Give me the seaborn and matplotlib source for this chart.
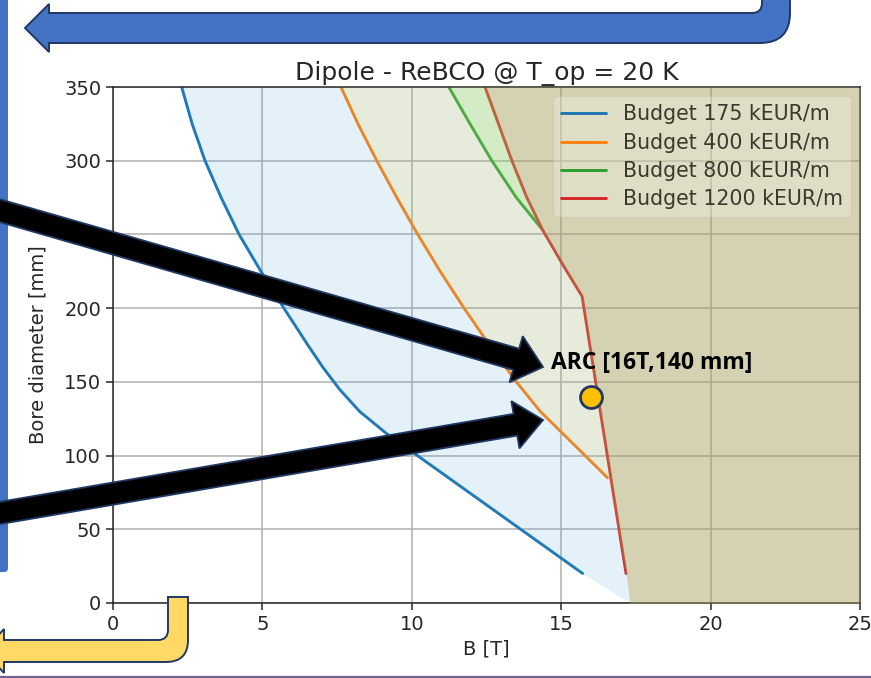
import numpy as np
import pandas as pd
import matplotlib
matplotlib.use("Agg")
import matplotlib.pyplot as plt
import seaborn as sns
from matplotlib.patches import FancyArrow, FancyBboxPatch, PathPatch
from matplotlib.path import Path

# ---- data -------------------------------------------------------------
budgets = ["Budget 175 kEUR/m", "Budget 400 kEUR/m",
           "Budget 800 kEUR/m", "Budget 1200 kEUR/m"]
line_colors = ["#1f77b4", "#ff7f0e", "#2ca02c", "#d62728"]
fill_colors = ["#52a2d7", "#ecc938", "#6ef849", "#e14047"]

# bore diameter [mm] and reachable dipole field [T] for each budget
d_175 = [350, 325, 300, 275, 250, 225, 200, 175, 160, 145, 130, 115, 20]
b_175 = [2.30, 2.65, 3.08, 3.62, 4.22, 4.95, 5.72, 6.52, 7.02, 7.58, 8.25, 9.15, 15.72]

d_400 = [350, 325, 300, 275, 250, 225, 200, 175, 150, 130, 117, 85]
b_400 = [7.63, 8.20, 8.83, 9.50, 10.20, 10.95, 11.75, 12.60, 13.50, 14.30, 14.95, 16.55]

d_800 = [350, 325, 300, 275, 253]
b_800 = [11.24, 11.95, 12.68, 13.50, 14.38]

d_1200 = [350, 325, 300, 275, 253, 230, 208, 20]
b_1200 = [12.45, 12.90, 13.35, 13.85, 14.38, 15.04, 15.70, 17.17]

# field limit reached at zero bore
b_limit = 17.3

arc_field = 16      # T
arc_bore = 140      # mm
arc_label = "ARC [16T,140 mm]"

x_ticks = [0, 5, 10, 15, 20, 25]
y_ticks = [0, 50, 100, 150, 200, 250, 300, 350]

# ---- style ------------------------------------------------------------
sns.set_style("ticks")
plt.rcParams["font.family"] = ["DejaVu Sans"]

W, H = 871, 678
fig = plt.figure(figsize=(W / 100, H / 100), dpi=100)
ax = fig.add_axes([113 / W, 75 / H, 747 / W, 516 / H])

frames = []
for name, bb, dd in zip(budgets, [b_175, b_400, b_800, b_1200],
                        [d_175, d_400, d_800, d_1200]):
    frames.append(pd.DataFrame({"B": bb, "D": dd, "budget": name}))
df = pd.concat(frames, ignore_index=True)

sns.lineplot(data=df, x="B", y="D", hue="budget", hue_order=budgets,
             palette=line_colors, sort=False, estimator=None,
             linewidth=2.1, ax=ax, zorder=2)

ax.set_xlim(0, 25)
ax.set_ylim(0, 350)
ax.set_xticks(x_ticks)
ax.set_yticks(y_ticks)
ax.tick_params(labelsize=14, length=5, width=1.1, colors="#262626")
for s in ax.spines.values():
    s.set_linewidth(1.1)
    s.set_color("#262626")
ax.set_axisbelow(True)
ax.grid(True, color="#b0b0b0", linewidth=1.1)
ax.set_xlabel("B [T]", fontsize=14, labelpad=4)
ax.set_ylabel("Bore diameter [mm]", fontsize=14, labelpad=12)
ax.set_title("Dipole - ReBCO @ T_op = 20 K", fontsize=18, pad=5)


def region(dd, bb):
    """Curve points, continued along the highest-budget curve to zero bore."""
    d_out, b_out = list(dd), list(bb)
    for d, b in zip(d_1200, b_1200):
        if d < min(dd):
            d_out.append(d)
            b_out.append(b)
    d_out.append(0)
    b_out.append(b_limit)
    return d_out, b_out


# translucent budget regions, each from its curve to the right edge
for (dd, bb), fc in zip([(d_175, b_175), (d_400, b_400),
                         (d_800, b_800), (d_1200, b_1200)], fill_colors):
    fd, fb = region(dd, bb)
    ax.fill_betweenx(fd, fb, 25, color=fc, alpha=0.15, linewidth=0, zorder=4)

handles, labels = ax.get_legend_handles_labels()
leg = ax.legend(handles, labels, loc="upper right", fontsize=14.8,
                framealpha=0.25, edgecolor="#b8b6a0", handlelength=2.2,
                labelspacing=0.4, borderaxespad=0.45)
leg.set_zorder(7)
for t in leg.get_texts():
    t.set_color("#3a3a2c")

# design point
ax.scatter([arc_field], [arc_bore], s=250, color="#ffc000",
           edgecolor="#1f3864", linewidth=2, zorder=12, clip_on=False)
ax.text(arc_field - 1.33, arc_bore + 23, arc_label, fontsize=16.5,
        fontweight="bold", family=["Open Sans", "DejaVu Sans"],
        color="black", va="center", ha="left", zorder=12)

# ---- slide overlay shapes (pixel coordinates, y downwards) ------------
ov = fig.add_axes([0, 0, 1, 1], zorder=10)
ov.set_xlim(0, W)
ov.set_ylim(H, 0)
ov.set_axis_off()

navy = "#1f3864"

# U-turn arrow along the top
top = Path([
    (25, 28), (49, 4), (49, 13), (752, 13), (762, 13), (762, 3), (762, -6),
    (790, -6), (790, 13), (790, 43), (760, 43), (49, 43), (49, 52), (25, 28),
], [Path.MOVETO, Path.LINETO, Path.LINETO, Path.LINETO, Path.CURVE3,
    Path.CURVE3, Path.LINETO, Path.LINETO, Path.LINETO, Path.CURVE3,
    Path.CURVE3, Path.LINETO, Path.LINETO, Path.CLOSEPOLY])
ov.add_patch(PathPatch(top, facecolor="#4472c4", edgecolor=navy, lw=1.4))

# bar on the left edge
ov.add_patch(FancyBboxPatch((-20, -20), 28, 592,
                            boxstyle="round,pad=0,rounding_size=4",
                            facecolor="#4472c4", edgecolor="none"))

# bent yellow arrow at the bottom left
yel = Path([
    (168, 597), (188, 597), (188, 640), (188, 662), (166, 662), (4, 662),
    (4, 673), (-16, 651), (4, 629), (4, 640), (158, 640), (168, 640),
    (168, 630), (168, 597),
], [Path.MOVETO, Path.LINETO, Path.LINETO, Path.CURVE3, Path.CURVE3,
    Path.LINETO, Path.LINETO, Path.LINETO, Path.LINETO, Path.LINETO,
    Path.LINETO, Path.CURVE3, Path.CURVE3, Path.CLOSEPOLY])
ov.add_patch(PathPatch(yel, facecolor="#ffd966", edgecolor=navy, lw=1.4))

# black pointer arrows
for (x0, y0), (x1, y1) in [((-6, 209), (543, 367)), ((-6, 514), (543, 420))]:
    ov.add_patch(FancyArrow(x0, y0, x1 - x0, y1 - y0, width=22,
                            head_width=48, head_length=28,
                            length_includes_head=True,
                            facecolor="black", edgecolor=navy, lw=1.3))

# thin strip at the bottom border
ov.plot([0, W], [677, 677], color="#6f6190", lw=1.6, solid_capstyle="butt")

fig.savefig("out.png", dpi=100)
